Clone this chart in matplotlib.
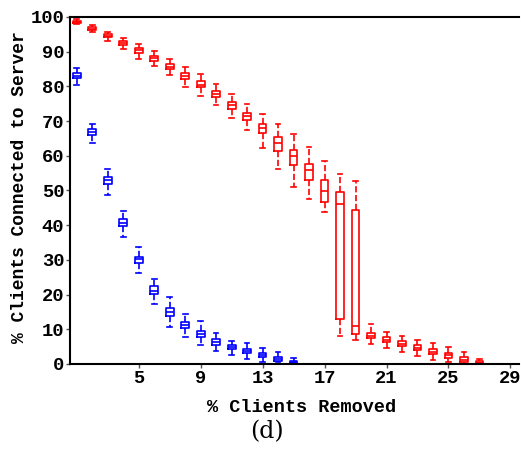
import matplotlib
matplotlib.use('Agg')
import matplotlib.pyplot as plt

pos = list(range(1, 30))

# red series (with the fix)
red_med = [98.6, 96.6, 94.6, 92.5, 90.4, 88.1, 85.7, 83.0, 80.5, 77.8, 74.5, 71.4, 67.9, 63.8, 60.0,
           55.8, 49.9, 46.0, 10.9, 8.2, 7.0, 5.9, 4.7, 3.5, 2.5, 1.2, 0.4, 0.0, 0.0]
red_q1 = [98.3, 96.3, 94.2, 91.9, 89.7, 87.4, 84.9, 82.1, 79.7, 77.0, 73.5, 70.3, 66.5, 61.5, 57.4,
          52.9, 46.6, 13.0, 8.7, 7.4, 6.3, 5.2, 4.0, 2.9, 1.7, 0.6, 0.2, 0.0, 0.0]
red_q3 = [98.9, 97.0, 95.0, 93.0, 91.0, 88.8, 86.4, 83.9, 81.5, 78.8, 75.6, 72.4, 69.3, 65.5, 61.8,
          57.7, 52.9, 49.5, 44.4, 8.8, 7.7, 6.5, 5.4, 4.2, 3.1, 1.9, 0.8, 0.0, 0.0]
red_lo = [98.0, 95.7, 93.0, 90.8, 88.0, 85.8, 83.3, 79.7, 77.1, 74.6, 70.8, 67.4, 62.3, 56.3, 50.9,
          47.5, 43.9, 8.2, 6.8, 5.8, 4.6, 3.5, 2.4, 1.2, 0.6, 0.0, 0.0, 0.0, 0.0]
red_hi = [99.3, 97.7, 95.8, 94.0, 92.1, 90.1, 88.0, 85.5, 83.5, 80.6, 77.9, 75.0, 72.1, 69.1, 66.2,
          62.5, 58.6, 54.8, 52.6, 11.4, 9.3, 8.2, 7.0, 6.0, 4.8, 3.5, 1.5, 0.0, 0.0]

# blue series (without the fix)
blue_med = [83.1, 66.9, 52.9, 40.7, 30.2, 21.1, 14.9, 11.3, 8.7, 6.4, 4.9, 3.7, 2.6, 1.4, 0.6] + [0.0] * 14
blue_q1 = [82.3, 66.0, 51.8, 39.7, 29.0, 20.1, 13.8, 10.3, 7.8, 5.6, 4.2, 3.1, 2.0, 0.8, 0.4] + [0.0] * 14
blue_q3 = [83.8, 67.6, 54.0, 41.7, 30.9, 22.5, 16.0, 12.2, 9.6, 7.3, 5.5, 4.3, 3.1, 2.0, 0.9] + [0.0] * 14
blue_lo = [80.3, 63.6, 48.7, 36.7, 26.1, 17.2, 10.7, 7.7, 5.5, 3.7, 2.6, 1.5, 0.6, 0.5, 0.0] + [0.0] * 14
blue_hi = [85.2, 69.3, 56.1, 44.1, 33.6, 24.6, 19.2, 14.3, 12.5, 9.0, 6.7, 6.0, 4.7, 3.5, 1.8] + [0.0] * 14

xticks = [5, 9, 13, 17, 21, 25, 29]
yticks = list(range(0, 101, 10))


def make_stats(med, q1, q3, lo, hi):
    return [dict(med=m, q1=a, q3=b, whislo=l, whishi=h, fliers=[])
            for m, a, b, l, h in zip(med, q1, q3, lo, hi)]


def draw(ax, stats, col):
    props = dict(color=col, linewidth=1.2)
    ax.bxp(stats, positions=pos, widths=0.5, showfliers=False,
           boxprops=props, medianprops=props, capprops=props,
           whiskerprops=dict(color=col, linewidth=1.2, linestyle='--'),
           capwidths=0.3, manage_ticks=False)


mono = 'Liberation Mono'

fig = plt.figure(figsize=(5.21, 4.59), dpi=100)
ax = fig.add_axes([0.134, 0.207, 0.862, 0.756])

draw(ax, make_stats(blue_med, blue_q1, blue_q3, blue_lo, blue_hi), '#0000ff')
draw(ax, make_stats(red_med, red_q1, red_q3, red_lo, red_hi), '#ff0000')

ax.set_xlim(0.55, 29.55)
ax.set_ylim(0, 100)
ax.set_xticks(xticks)
ax.set_yticks(yticks)
ax.set_xticklabels([str(t) for t in xticks], family=mono, fontweight='bold', fontsize=13.5)
ax.set_yticklabels([str(t) for t in yticks], family=mono, fontweight='bold', fontsize=13.5)
ax.tick_params(direction='out', length=3, width=1, color='#555555', pad=1)
ax.spines['right'].set_visible(False)
for s in ['left', 'bottom', 'top']:
    ax.spines[s].set_linewidth(1.5)

ax.set_xlabel('% Clients Removed', family=mono, fontweight='bold', fontsize=13.3)
ax.set_ylabel('% Clients Connected to Server', family=mono, fontweight='bold', fontsize=13)
ax.xaxis.set_label_coords(0.517, -0.100)
ax.yaxis.set_label_coords(-0.093, 0.51)
fig.text(0.513, 0.059, '(d)', family='DejaVu Serif', fontsize=17, ha='center', va='center')

fig.savefig('out.png', dpi=100)
